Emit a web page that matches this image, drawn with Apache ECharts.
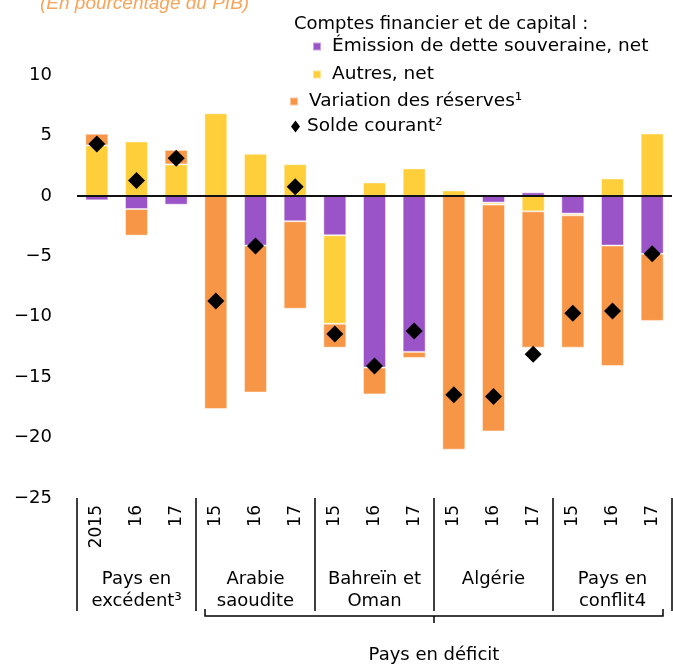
<!DOCTYPE html>
<html>
<head>
<meta charset="utf-8">
<script src="https://cdn.jsdelivr.net/npm/echarts@6/dist/echarts.min.js"></script>
<style>
  html, body { margin: 0; padding: 0; background: #fff; }
  #chart { width: 673px; height: 664px; }
</style>
</head>
<body>
<div id="chart"></div>
<script>
// categories: year under each bar, then the country group under each block of 3
const years = ['2015', '16', '17', '15', '16', '17', '15', '16', '17', '15', '16', '17', '15', '16', '17']
const groups = ['Pays en\nexcédent³', 'Arabie\nsaoudite', 'Bahreïn et\nOman', 'Algérie', 'Pays en\nconflit4']

// en pourcentage du PIB
const emission = [-0.37, -1.09, -0.73, 0, -4.11, -2.1, -3.26, -14.21, -12.91, 0, -0.56, 0.29, -1.47, -4.11, -4.8]
const autres = [4.17, 4.5, 2.6, 6.83, 3.48, 2.62, -7.32, 1.11, 2.27, 0.45, -0.16, -1.28, -0.14, 1.44, 5.16]
const reserves = [0.97, -2.2, 1.2, -17.64, -12.16, -7.24, -1.98, -2.22, -0.5, -21.0, -18.77, -11.28, -10.95, -9.96, -5.55]
const solde = [4.3, 1.28, 3.12, -8.7, -4.14, 0.76, -11.43, -14.07, -11.18, -16.46, -16.6, -13.1, -9.72, -9.53, -4.8]

const yTicks = { min: -25, max: 10, interval: 5 }

const FONT = 'DejaVu Sans, Liberation Sans, Arial, sans-serif'
const PURPLE = '#9a54c8'
const YELLOW = '#ffce3b'
const ORANGE = '#f79646'

const chart = echarts.init(document.getElementById('chart'))

const barStyle = (color) => ({
  color: color,
  borderColor: 'rgba(255,255,255,0.45)',
  borderWidth: 1
})

const legendItem = (name, left, top, icon) => ({
  data: [name],
  left: left,
  top: top,
  icon: icon || 'rect',
  itemWidth: icon ? 9 : 8,
  itemHeight: icon ? 12 : 8,
  itemGap: 0,
  padding: 0,
  selectedMode: false,
  textStyle: { fontFamily: FONT, fontSize: 18.5, color: '#000', padding: [0, 0, 0, icon ? 2 : 6] }
})

const option = {
  animation: false,
  textStyle: { fontFamily: FONT },
  title: [
    {
      text: '(En pourcentage du PIB)',
      left: 35,
      top: -11,
      textStyle: { fontFamily: 'Liberation Sans, Arial, sans-serif', fontSize: 19, fontStyle: 'italic', fontWeight: 'normal', color: '#f8a55c' }
    },
    {
      text: 'Comptes financier et de capital :',
      left: 289,
      top: 10,
      textStyle: { fontFamily: FONT, fontSize: 18, fontWeight: 'normal', color: '#000' }
    }
  ],
  legend: [
    legendItem('Émission de dette souveraine, net', 312, 37),
    legendItem('Autres, net', 312, 65),
    legendItem('Variation des réserves¹', 289, 92),
    legendItem('Solde courant²', 291, 117, 'diamond')
  ],
  grid: { left: 77, right: 1, top: 75, bottom: 166, containLabel: false },
  xAxis: [
    {
      type: 'category',
      data: years,
      position: 'bottom',
      axisLine: { show: false, onZero: false },
      axisTick: { show: false },
      axisLabel: { interval: 0, rotate: 90, margin: 7, fontSize: 17, color: '#000', fontFamily: FONT }
    },
    {
      type: 'category',
      data: groups,
      position: 'bottom',
      axisLine: { show: false, onZero: false },
      axisTick: { show: true, interval: 0, length: 113, lineStyle: { color: '#000', width: 1.5 } },
      axisLabel: { interval: 0, margin: 70, fontSize: 18, lineHeight: 22, color: '#000', fontFamily: FONT }
    }
  ],
  yAxis: {
    type: 'value',
    min: yTicks.min,
    max: yTicks.max,
    interval: yTicks.interval,
    axisLine: { show: false },
    axisTick: { show: false },
    splitLine: { show: false },
    axisLabel: {
      margin: 25,
      fontSize: 18,
      color: '#000',
      fontFamily: FONT,
      formatter: (v) => String(v).replace('-', '\u2212')
    }
  },
  series: [
    {
      name: 'Émission de dette souveraine, net',
      type: 'bar',
      stack: 'cf',
      barWidth: '58%',
      itemStyle: barStyle(PURPLE),
      data: emission,
      markLine: {
        silent: true,
        symbol: ['none', 'none'],
        label: { show: false },
        z: 5,
        lineStyle: { color: '#111', width: 2, type: 'solid' },
        data: [{ yAxis: 0 }]
      }
    },
    {
      name: 'Autres, net',
      type: 'bar',
      stack: 'cf',
      itemStyle: barStyle(YELLOW),
      data: autres
    },
    {
      name: 'Variation des réserves¹',
      type: 'bar',
      stack: 'cf',
      itemStyle: barStyle(ORANGE),
      data: reserves
    },
    {
      name: 'Solde courant²',
      type: 'scatter',
      symbol: 'diamond',
      symbolSize: 17,
      z: 10,
      itemStyle: { color: '#000', opacity: 1 },
      data: solde
    }
  ],
  graphic: [
    {
      type: 'polyline',
      shape: { points: [[205, 609], [205, 616], [663, 616], [663, 609]] },
      style: { stroke: '#000', lineWidth: 1.5, fill: null }
    },
    {
      type: 'line',
      shape: { x1: 434, y1: 616, x2: 434, y2: 623 },
      style: { stroke: '#000', lineWidth: 1.5 }
    },
    {
      type: 'text',
      x: 434,
      y: 655,
      style: { text: 'Pays en déficit', font: '18px ' + FONT, fill: '#000', textAlign: 'center', textVerticalAlign: 'middle' }
    }
  ]
}

chart.setOption(option)
</script>
</body>
</html>
